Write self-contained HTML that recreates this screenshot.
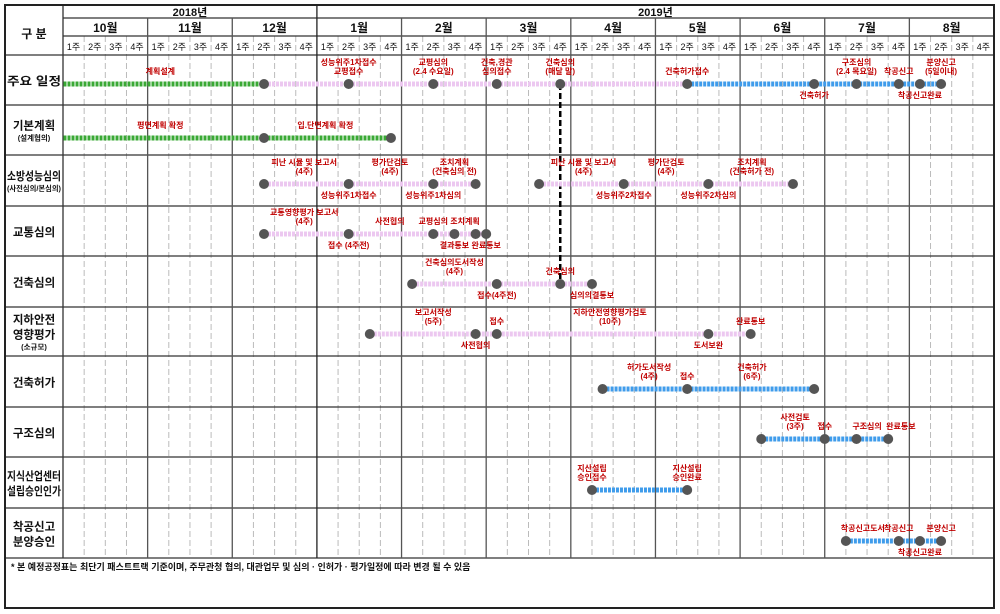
<!DOCTYPE html>
<html><head><meta charset="utf-8"><style>
body{margin:0;background:#fff}
svg{display:block;font-family:"Liberation Sans","Noto Sans CJK KR",sans-serif}
</style></head><body>
<svg id="c" width="1000" height="614" viewBox="0 0 1000 614"></svg>
<script>
const rowNames=[["주요 일정"],["기본계획","(설계협의)"],["소방성능심의","(사전심의/본심의)"],["교통심의"],["건축심의"],["지하안전","영향평가","(소규모)"],["건축허가"],["구조심의"],["지식산업센터","설립승인인가"],["착공신고","분양승인"]];
const months=["10월","11월","12월","1월","2월","3월","4월","5월","6월","7월","8월"];
const weekLabels=["1주","2주","3주","4주"];
const years=["2018년","2019년"];
const msRow=[0,0,0,0,0,0,0,0,0,0,0, 1,1, 2,2,2,2,2,2,2,2, 3,3,3,3,3,3, 4,4,4,4, 5,5,5,5,5, 6,6,6, 7,7,7,7, 8,8, 9,9,9,9];
const msWeek=[9,13,17,20,23,29,35,37,39,40,41, 9,15, 9,13,17,19,22,26,30,34, 9,13,17,18,19,19.5, 16,20,23,24.5, 14,19,20,30,32, 25,29,35, 32.5,35.5,37,38.5, 24.5,29, 36.5,39,40,41];
const segRow=[0,0,0, 1, 2,2, 3, 4, 5, 6, 7, 8, 9];
const segFrom=[-0.5,9,29, -0.5, 9,22, 9, 16, 14, 25, 32.5, 24.5, 36.5];
const segTo=[9,29,41, 15, 19,34, 19.5, 24.5, 32, 35, 38.5, 29, 41];
const segKind=["g","p","b","g","p","p","p","p","p","b","b","b","b"];
const lblRow=[0,0,0,0,0,0,0,0,0,0,0, 1,1, 2,2,2,2,2,2,2,2,2,2, 3,3,3,3,3,3,3, 4,4,4,4, 5,5,5,5,5,5, 6,6,6, 7,7,7,7, 8,8, 9,9,9,9];
const lblWeek=[4.1,13,17,20,23,29,37,39,41,35,40, 4.1,11.9, 10.9,14.95,18,24.1,28,32.06,13,17,26,30, 10.9,14.95,17,18.5,13,18,19.5, 18,23,20,24.5, 17,20,25.35,32,19,30, 27.2,29,32.06, 34.1,35.5,37.5,39.1, 24.5,29, 37.3,39,41,40];
const lblText=["계획설계","성능위주1차접수|교평접수","교평심의|(2.4 수요일)","건축,경관|심의접수","건축심의|(매달 말)","건축허가접수","구조심의|(2.4 목요일)","착공신고","분양신고|(5일이내)","건축허가","착공신고완료",
"평면계획 확정","입.단면계획 확정",
"피난 시뮬 및 보고서|(4주)","평가단검토|(4주)","조치계획|(건축심의 전)","피난 시뮬 및 보고서|(4주)","평가단검토|(4주)","조치계획|(건축허가 전)","성능위주1차접수","성능위주1차심의","성능위주2차접수","성능위주2차심의",
"교통영향평가 보고서|(4주)","사전협의","교평심의","조치계획","접수 (4주전)","결과통보","완료통보",
"건축심의도서작성|(4주)","건축심의","접수(4주전)","심의의결통보",
"보고서작성|(5주)","접수","지하안전영향평가검토|(10주)","완료통보","사전협의","도서보완",
"허가도서작성|(4주)","접수","건축허가|(6주)",
"사전검토|(3주)","접수","구조심의","완료통보",
"지산설립|승인접수","지산설립|승인완료",
"착공신고도서","착공신고","분양신고","착공신고완료"];
const lblPos=["a","a","a","a","a","a","a","a","a","b","b", "a","a", "a","a","a","a","a","a","b","b","b","b", "a","a","a","a","b","b","b", "a","a","b","b", "a","a","a","a","b","b", "a","a","a", "a","a","a","a", "a","a", "a","a","a","b"];

const svg=document.getElementById('c');const NS="http://www.w3.org/2000/svg";
function mk(t,a,p){const e=document.createElementNS(NS,t);for(const k in a)e.setAttribute(k,a[k]);(p||svg).appendChild(e);return e;}
const X0=63,X1=994,W=(X1-X0)/44;
const rowTop=[55,105,155,206,256,307,356,407,457,508,558];
const dotOff=[29,33,29,28,28,27,33,32,33,33];
const wx=v=>X0+(v+0.5)*W;
const wEdge=i=>X0+i*W;
const ry=r=>rowTop[r]+dotOff[r];

for(let i=1;i<44;i++){if(i%4==0)continue;const x=wEdge(i);
 const l=mk('line',{x1:x,y1:36,x2:x,y2:558,stroke:'#bbb','stroke-width':1,'stroke-dasharray':'6,3'});
 }
for(let r=1;r<rowTop.length-1;r++){const l=mk('line',{x1:5,y1:rowTop[r],x2:X1,y2:rowTop[r],stroke:'#333','stroke-width':1.2});
 }
[[63,18],[63,36],[5,55],[5,558]].forEach(([x,y])=>{const l=mk('line',{x1:x,y1:y,x2:X1,y2:y,stroke:'#333','stroke-width':1.3});
 });
for(let m=1;m<11;m++){const x=wEdge(m*4);const l=mk('line',{x1:x,y1:m==3?5:18,x2:x,y2:558,stroke:m==3?'#222':'#555','stroke-width':1.3});
 }
const lc=mk('line',{x1:63,y1:5,x2:63,y2:558,stroke:'#333','stroke-width':1.3});

const ob=mk('rect',{x:5,y:5,width:989,height:603,fill:'none',stroke:'#222','stroke-width':2});


function txt(x,y,s,sz,fill,w,name){const t=mk('text',{x:x,y:y,'font-size':sz,fill:fill,'font-weight':w||'bold','text-anchor':'middle'});t.textContent=s;
 return t;}
txt((63+wEdge(12))/2,16,years[0],11,'#111','bold','year-label');
txt((wEdge(12)+X1)/2,16,years[1],11,'#111','bold','year-label');
months.forEach((m,i)=>txt((wEdge(i*4)+wEdge(i*4+4))/2,32,m,12,'#111','bold','month-label'));
for(let i=0;i<44;i++)txt(wx(i),50,weekLabels[i%4],9,'#111','normal','week-label');
txt(34,38,"구    분",12,'#111','bold','header-category');
rowNames.forEach((ls,r)=>{const cy=(rowTop[r]+rowTop[r+1])/2;
 const h=ls.map(s=>s.startsWith('(')?8:12);let tot=h.reduce((a,b)=>a+b+3,0)-3;let y=cy-tot/2;
 ls.forEach((s,k)=>{y+=h[k];const small=s.startsWith('(');
  const t=txt(34,y-1,s,small?7.5:11.5,'#111','bold','row-label');
  const maxW=54;if(s.length*(small?7:11.5)>maxW){t.setAttribute('textLength',maxW);t.setAttribute('lengthAdjust','spacingAndGlyphs');}
  y+=3;});});
const dl=mk('line',{x1:wx(23),y1:ry(0),x2:wx(23),y2:ry(4),stroke:'#000','stroke-width':2.5,'stroke-dasharray':'6,3'});

const col={g:'#3aa935',p:'#ecc8f0',b:'#3f9ceb'};
segRow.forEach((r,i)=>{const x1=segFrom[i]<0?X0+0.5:wx(segFrom[i]);
 const l=mk('line',{x1:x1,y1:ry(r),x2:wx(segTo[i]),y2:ry(r),stroke:col[segKind[i]],'stroke-width':5,'stroke-dasharray':'3,1'});
 });
msRow.forEach((r,i)=>{const c=mk('circle',{cx:wx(msWeek[i]),cy:ry(r),r:5,fill:'#555'});
 });
lblRow.forEach((r,i)=>{const ls=lblText[i].split('|');const x=wx(lblWeek[i]);const y0=ry(r);
 ls.forEach((s,k)=>{let y;if(lblPos[i]=='a'){y=y0-10-(ls.length-1-k)*9;}else{y=y0+14+k*9;}
  txt(x,y,s,8,'#c00000','bold','milestone-label');});});
const fn=mk('text',{x:11,y:570,'font-size':9,fill:'#111','font-weight':'bold'});
fn.textContent="* 본 예정공정표는 최단기 패스트트랙 기준이며, 주무관청 협의, 대관업무 및 심의 · 인허가 · 평가일정에 따라 변경 될 수 있음";

</script>
</body></html>
